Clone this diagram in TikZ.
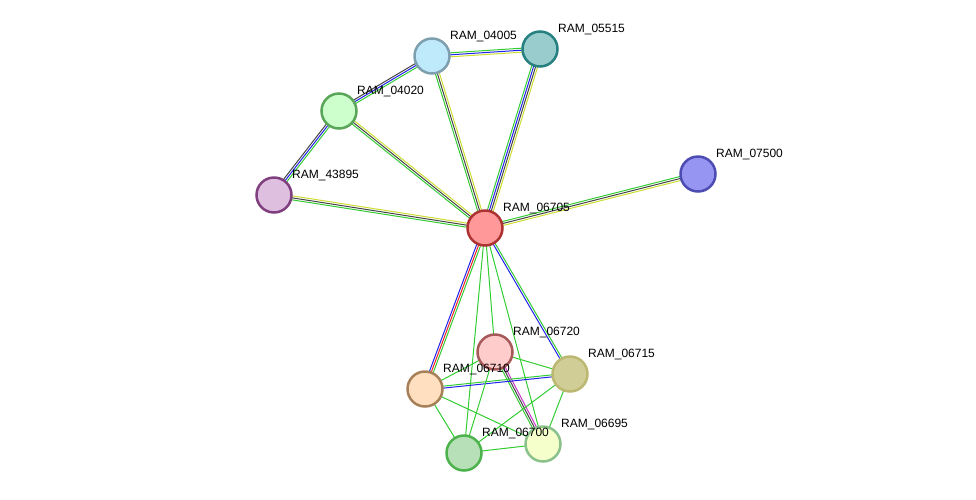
\documentclass[tikz,border=0pt]{standalone}
\usepackage{fontspec}
\setmainfont{Liberation Sans}
\usetikzlibrary{calc}
\definecolor{egreen}{HTML}{33CC33}
\definecolor{eyellow}{HTML}{CCDD33}
\definecolor{egray}{HTML}{444444}
\definecolor{eblue}{HTML}{2222EE}
\definecolor{ered}{HTML}{EE2222}
\definecolor{emag}{HTML}{CC33CC}
\tikzset{
  prot/.style n args={2}{circle, minimum size=35pt, inner sep=0pt, line width=2.5pt, fill=#1, draw=#2},
  lab/.style={font=\fontsize{12}{14}\selectfont, anchor=south west, inner sep=1pt},
}
% #1,#2 nodes, #3 list of colours
\newcommand\link[3]{%
  \foreach \c [count=\i] in {#3} {\xdef\nlink{\i}}%
  \foreach \c [count=\i] in {#3} {
    \pgfmathsetmacro\off{(\i-(\nlink+1)/2)*2}
    \draw[\c, line width=1pt] ($(#1)!\off pt!90:(#2)$) -- ($(#2)!\off pt!-90:(#1)$);
  }%
}
\begin{document}
\begin{tikzpicture}[x=1pt, y=-1pt]
  \useasboundingbox (0,0) rectangle (976,499);
  % proteins
  \coordinate (c06705) at (485,228);
  \coordinate (c04005) at (432,56);
  \coordinate (c05515) at (540,49);
  \coordinate (c04020) at (339,111);
  \coordinate (c43895) at (274,195);
  \coordinate (c07500) at (698,174);
  \coordinate (c06720) at (495,352);
  \coordinate (c06715) at (570,374);
  \coordinate (c06710) at (425,389);
  \coordinate (c06700) at (464,453);
  \coordinate (c06695) at (543,444);

  % links
  \link{c06705}{c04005}{eyellow,egray,egreen}
  \link{c06705}{c05515}{eyellow,egray,eblue,egreen}
  \link{c06705}{c04020}{eyellow,egray,egreen}
  \link{c06705}{c43895}{eyellow,egray,egreen}
  \link{c06705}{c07500}{eyellow,egray,egreen}
  \link{c05515}{c04005}{egreen,eblue,eyellow}
  \link{c04005}{c04020}{egray,eblue,egreen}
  \link{c04020}{c43895}{egray,eblue,egreen}
  \link{c06705}{c06710}{eblue,ered,egreen}
  \link{c06705}{c06715}{eblue,egreen}
  \link{c06705}{c06720}{egreen}
  \link{c06705}{c06700}{egreen}
  \link{c06705}{c06695}{egreen}
  \link{c06720}{c06695}{egreen,egray,emag}
  \link{c06710}{c06715}{eblue,egreen}
  \link{c06720}{c06715}{egreen}
  \link{c06720}{c06710}{egreen}
  \link{c06720}{c06700}{egreen}
  \link{c06710}{c06700}{egreen}
  \link{c06710}{c06695}{egreen}
  \link{c06715}{c06700}{egreen}
  \link{c06715}{c06695}{egreen}
  \link{c06700}{c06695}{egreen}

  \node[prot={red!40}{red!60!black!80}] (n06705) at (c06705) {};
  \node[prot={cyan!25}{cyan!30!gray}] (n04005) at (c04005) {};
  \node[prot={teal!40}{teal!70!gray}] (n05515) at (c05515) {};
  \node[prot={green!20}{green!30!gray}] (n04020) at (c04020) {};
  \node[prot={violet!25}{violet!50!gray}] (n43895) at (c43895) {};
  \node[prot={blue!40!white!90!gray}{blue!40!gray}] (n07500) at (c07500) {};
  \node[prot={red!20}{red!30!gray}] (n06720) at (c06720) {};
  \node[prot={yellow!40!gray!70!white}{yellow!40!gray}] (n06715) at (c06715) {};
  \node[prot={orange!25}{orange!30!gray}] (n06710) at (c06710) {};
  \node[prot={green!40!gray!40!white}{green!40!gray}] (n06700) at (c06700) {};
  \node[prot={green!20!yellow!20}{green!30!gray!70}] (n06695) at (c06695) {};

  \foreach \n in {06705,04005,05515,04020,43895,07500,06720,06715,06710,06700,06695}
    \node[lab] at ($(c\n)+(17,-13)$) {RAM\_\n};
\end{tikzpicture}
\end{document}
